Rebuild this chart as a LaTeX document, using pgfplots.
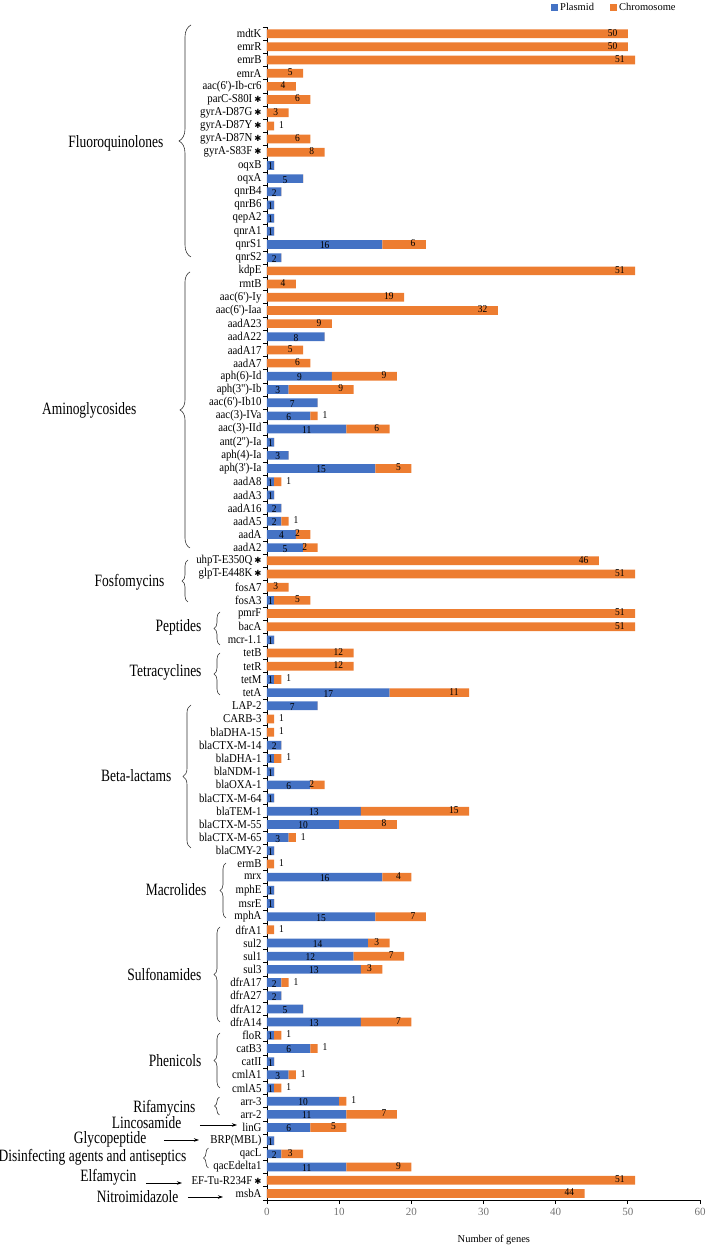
\documentclass[border=0pt]{standalone}
\usepackage{pgfplots}
\pgfplotsset{compat=1.18}
\usepackage{pgfplotstable}
\usepackage{fontspec}
\setmainfont{Liberation Serif}
\newfontfamily\grpfont[FakeStretch=0.78]{Liberation Serif}
\newfontfamily\genefont[FakeStretch=0.9]{Liberation Serif}
\newfontfamily\djv{DejaVu Sans}
\usetikzlibrary{decorations.pathreplacing,arrows.meta}
\definecolor{cBlue}{HTML}{4472C4}
\definecolor{cOrange}{HTML}{ED7D31}
\newcommand{\st}{{\djv\fontsize{8.5}{8.5}\selectfont ✱}}
\newcommand{\GF}{\grpfont\fontsize{17.3}{18}\selectfont}
\newcommand{\NF}{\genefont\fontsize{10.5}{10.5}\selectfont}
\pgfplotstableread{
r p c
1 0 50
2 0 50
3 0 51
4 0 5
5 0 4
6 0 6
7 0 3
8 0 1
9 0 6
10 0 8
11 1 0
12 5 0
13 2 0
14 1 0
15 1 0
16 1 0
17 16 6
18 2 0
19 0 51
20 0 4
21 0 19
22 0 32
23 0 9
24 8 0
25 0 5
26 0 6
27 9 9
28 3 9
29 7 0
30 6 1
31 11 6
32 1 0
33 3 0
34 15 5
35 1 1
36 1 0
37 2 0
38 2 1
39 4 2
40 5 2
41 0 46
42 0 51
43 0 3
44 1 5
45 0 51
46 0 51
47 1 0
48 0 12
49 0 12
50 1 1
51 17 11
52 7 0
53 0 1
54 0 1
55 2 0
56 1 1
57 1 0
58 6 2
59 1 0
60 13 15
61 10 8
62 3 1
63 1 0
64 0 1
65 16 4
66 1 0
67 1 0
68 15 7
69 0 1
70 14 3
71 12 7
72 13 3
73 2 1
74 2 0
75 5 0
76 13 7
77 1 1
78 6 1
79 1 0
80 3 1
81 1 1
82 10 1
83 11 7
84 6 5
85 1 0
86 2 3
87 11 9
88 0 51
89 0 44
}\genes
\begin{document}
\begin{tikzpicture}
\useasboundingbox (-267pt,-50pt) rectangle (442pt,1200pt);
\begin{axis}[
  at={(0pt,0pt)}, anchor=south west,
  scale only axis, width=433pt, height=1173pt,
  xmin=0, xmax=60, ymin=0.5, ymax=89.5, y dir=reverse,
  axis x line=bottom, axis y line=left,
  axis line style={-, black, line width=0.9pt},
  xtick={0,10,...,60}, minor xtick={0,10,...,60},
  ytick={1,...,89}, minor ytick={0.5,1.5,...,89.5},
  major tick length=0pt, minor tick length=4pt, tick align=outside,
  minor tick style={black, line width=0.8pt},
  /pgf/number format/assume math mode=true,
  xticklabel style={font=\fontsize{11}{11}\selectfont, text=black!55, yshift=-5pt},
  yticklabels={mdtK,emrR,emrB,emrA,aac(6')-Ib-cr6,parC-S80I\,\st,gyrA-D87G\,\st,gyrA-D87Y\,\st,gyrA-D87N\,\st,gyrA-S83F\,\st,oqxB,oqxA,qnrB4,qnrB6,qepA2,qnrA1,qnrS1,qnrS2,kdpE,rmtB,aac(6')-Iy,aac(6')-Iaa,aadA23,aadA22,aadA17,aadA7,aph(6)-Id,aph(3'')-Ib,aac(6')-Ib10,aac(3)-IVa,aac(3)-IId,ant(2'')-Ia,aph(4)-Ia,aph(3')-Ia,aadA8,aadA3,aadA16,aadA5,aadA,aadA2,uhpT-E350Q\,\st,glpT-E448K\,\st,fosA7,fosA3,pmrF,bacA,mcr-1.1,tetB,tetR,tetM,tetA,LAP-2,CARB-3,blaDHA-15,blaCTX-M-14,blaDHA-1,blaNDM-1,blaOXA-1,blaCTX-M-64,blaTEM-1,blaCTX-M-55,blaCTX-M-65,blaCMY-2,ermB,mrx,mphE,msrE,mphA,dfrA1,sul2,sul1,sul3,dfrA17,dfrA27,dfrA12,dfrA14,floR,catB3,catII,cmlA1,cmlA5,arr-3,arr-2,linG,BRP(MBL),qacL,qacEdelta1,EF-Tu-R234F\,\st,msbA},
  yticklabel style={font=\genefont\fontsize{12}{12}\selectfont, xshift=-2pt},
  clip=false,
  xlabel={Number of genes},
  xlabel style={font=\fontsize{10.5}{10.5}\selectfont, at={(axis description cs:0.524,0)}, anchor=center, yshift=-40pt},
  legend style={at={(axis description cs:0.649,1.017)}, anchor=west, draw=none, fill=none,
    legend columns=2, font=\fontsize{10.5}{10.5}\selectfont,
    /tikz/every even column/.append style={column sep=14pt}},
  legend image code/.code={\fill[#1] (0pt,-3.5pt) rectangle (7pt,3.5pt);},
]
\addplot[xbar, bar shift=0pt, bar width=0.66, stack plots=x, fill=cBlue, draw=none] table[x=p, y=r]{\genes};
\addlegendentry{Plasmid}
\addplot[xbar, bar shift=0pt, bar width=0.66, stack plots=x, fill=cOrange, draw=none] table[x=c, y=r]{\genes};
\addlegendentry{Chromosome}
% labels: plasmid (centred)
\addplot[forget plot, stack plots=false, only marks, mark=none,
  restrict x to domain=0:100, point meta=explicit, nodes near coords,
  every node near coord/.append style={anchor=center, font=\NF, yshift=-1pt}]
  table[x expr={\thisrow{p}>0 ? \thisrow{p}/2 : -5}, y=r, meta=p]{\genes};
% labels: chromosome > 1 (inside end)
\addplot[forget plot, stack plots=false, only marks, mark=none,
  restrict x to domain=0:100, point meta=explicit, nodes near coords,
  every node near coord/.append style={anchor=east, xshift=-7pt, font=\NF, yshift=1pt}]
  table[x expr={\thisrow{c}>1 ? \thisrow{p}+\thisrow{c} : -5}, y=r, meta=c]{\genes};
% labels: chromosome = 1 (outside end)
\addplot[forget plot, stack plots=false, only marks, mark=none,
  restrict x to domain=0:100, point meta=explicit, nodes near coords,
  every node near coord/.append style={anchor=west, xshift=1.5pt, font=\NF, yshift=1pt}]
  table[x expr={\thisrow{c}==1 ? \thisrow{p}+1 : -5}, y=r, meta=c]{\genes};
\end{axis}
\begin{scope}[shift={(-267pt,1200pt)},x=1pt,y=1pt]
\tikzset{br/.style={decorate, decoration={brace, amplitude=#1}, draw=black!80, line width=0.6pt},
  ar/.style={-{Stealth[length=5pt,width=3.5pt]}, line width=0.7pt}}
\draw[br=12pt] (191,-257) -- (191,-25);
\node[anchor=east, font=\GF] at (167,-143) {Fluoroquinolones};
\draw[br=10pt] (190,-548) -- (190,-272);
\node[anchor=east, font=\GF] at (140,-410) {Aminoglycosides};
\draw[br=6pt] (188,-602) -- (188,-560);
\node[anchor=east, font=\GF] at (168,-582) {Fosfomycins};
\draw[br=6pt] (220,-645) -- (220,-612);
\node[anchor=east, font=\GF] at (205,-627) {Peptides};
\draw[br=6pt] (220,-695) -- (220,-653);
\node[anchor=east, font=\GF] at (205,-672) {Tetracyclines};
\draw[br=8pt] (191,-848) -- (191,-705);
\node[anchor=east, font=\GF] at (175,-776) {Beta-lactams};
\draw[br=6pt] (226,-918) -- (226,-863);
\node[anchor=east, font=\GF] at (210,-890) {Macrolides};
\draw[br=6pt] (220,-1022) -- (220,-927);
\node[anchor=east, font=\GF] at (205,-974) {Sulfonamides};
\draw[br=6pt] (220,-1088) -- (220,-1033);
\node[anchor=east, font=\GF] at (205,-1061) {Phenicols};
\draw[br=5pt] (219.5,-1115) -- (219.5,-1097);
\node[anchor=east, font=\GF] at (199,-1108) {Rifamycins};
\node[anchor=east, font=\GF] at (185,-1123) {Lincosamide};
\draw[ar] (200,-1125) -- (237,-1125);
\node[anchor=east, font=\GF] at (150,-1139) {Glycopeptide};
\draw[ar] (164,-1140) -- (199,-1140);
\draw[br=5pt] (208.5,-1168) -- (208.5,-1148);
\node[anchor=east, font=\GF] at (190,-1157) {Disinfecting agents and antiseptics};
\node[anchor=east, font=\GF] at (140,-1177) {Elfamycin};
\draw[ar] (146,-1183) -- (182,-1183);
\node[anchor=east, font=\GF] at (182,-1197) {Nitroimidazole};
\draw[ar] (188,-1197) -- (223,-1197);
\end{scope}
\end{tikzpicture}
\end{document}
